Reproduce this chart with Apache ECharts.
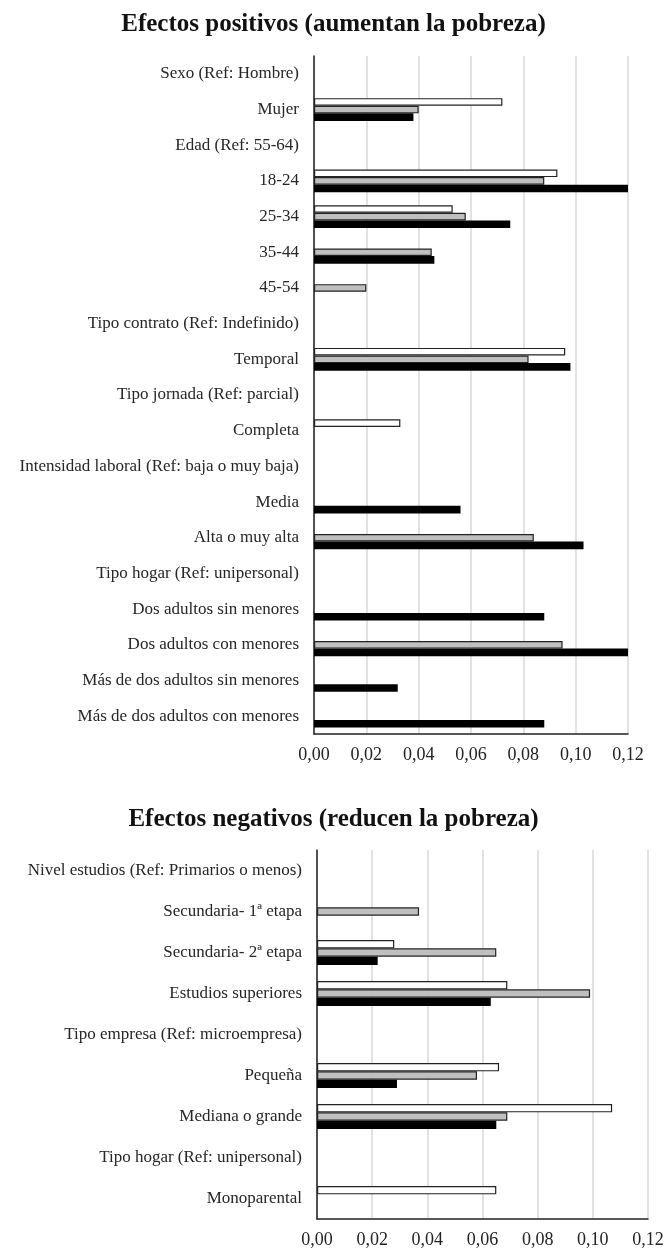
<!DOCTYPE html>
<html>
<head>
<meta charset="utf-8">
<script src="https://cdn.jsdelivr.net/npm/echarts@6/dist/echarts.min.js"></script>
<style>
  html, body { margin: 0; padding: 0; background: #fff; }
  #main { width: 667px; height: 1249px; }
</style>
</head>
<body>
<div id="main"></div>
<script>
// categorias y valores (grafico superior)
var catsPos = ['Sexo (Ref: Hombre)', 'Mujer', 'Edad (Ref: 55-64)', '18-24', '25-34', '35-44', '45-54',
  'Tipo contrato (Ref: Indefinido)', 'Temporal', 'Tipo jornada (Ref: parcial)', 'Completa',
  'Intensidad laboral (Ref: baja o muy baja)', 'Media', 'Alta o muy alta',
  'Tipo hogar (Ref: unipersonal)', 'Dos adultos sin menores', 'Dos adultos con menores',
  'Más de dos adultos sin menores', 'Más de dos adultos con menores'];
var posBlanco = [null, 0.072, null, 0.093, 0.053, null, null, null, 0.096, null, 0.033, null, null, null, null, null, null, null, null];
var posGris   = [null, 0.040, null, 0.088, 0.058, 0.045, 0.020, null, 0.082, null, null, null, null, 0.084, null, null, 0.095, null, null];
var posNegro  = [null, 0.038, null, 0.120, 0.075, 0.046, null, null, 0.098, null, null, null, 0.056, 0.103, null, 0.088, 0.120, 0.032, 0.088];

// grafico inferior
var catsNeg = ['Nivel estudios (Ref: Primarios o menos)', 'Secundaria- 1ª etapa', 'Secundaria- 2ª etapa',
  'Estudios superiores', 'Tipo empresa (Ref: microempresa)', 'Pequeña', 'Mediana o grande',
  'Tipo hogar (Ref: unipersonal)', 'Monoparental'];
var negBlanco = [null, null, 0.028, 0.069, null, 0.066, 0.107, null, 0.065];
var negGris   = [null, 0.037, 0.065, 0.099, null, 0.058, 0.069, null, null];
var negNegro  = [null, null, 0.022, 0.063, null, 0.029, 0.065, null, null];

var titulos = ['Efectos positivos (aumentan la pobreza)', 'Efectos negativos (reducen la pobreza)'];
var serieNombres = ['Serie 1', 'Serie 2', 'Serie 3'];

var FONT = '"Liberation Serif", "DejaVu Serif", serif';

function xAxisCfg(idx) {
  return {
    type: 'value', gridIndex: idx, min: 0, max: 0.12, interval: 0.02,
    axisLine: { show: true, lineStyle: { color: '#222', width: 1.5 } },
    axisTick: { show: false },
    splitLine: { show: true, lineStyle: { color: '#d9d9d9', width: 1.5 } },
    axisLabel: {
      fontFamily: FONT, fontSize: 18, color: '#222', margin: 12,
      formatter: function (v) { return v.toFixed(2).replace('.', ','); }
    }
  };
}
function yAxisCfg(idx, cats) {
  return {
    type: 'category', gridIndex: idx, data: cats, inverse: true,
    axisLine: { show: true, lineStyle: { color: '#222', width: 1.5 } },
    axisTick: { show: false },
    axisLabel: { fontFamily: FONT, fontSize: 17, color: '#262626', margin: 15 }
  };
}
function barSerie(name, idx, data, color, bw) {
  return {
    name: name, type: 'bar', xAxisIndex: idx, yAxisIndex: idx, data: data,
    barWidth: bw, barGap: '0%',
    itemStyle: { color: color, borderColor: '#222', borderWidth: color === '#000' ? 0 : 1.2 }
  };
}

var chart = echarts.init(document.getElementById('main'));
chart.setOption({
  backgroundColor: '#fff',
  animation: false,
  title: [
    { text: titulos[0], left: 'center', top: 7, textStyle: { fontFamily: FONT, fontSize: 25, fontWeight: 'bold', color: '#111' } },
    { text: titulos[1], left: 'center', top: 802, textStyle: { fontFamily: FONT, fontSize: 25, fontWeight: 'bold', color: '#111' } }
  ],
  grid: [
    { left: 314, right: 39, top: 56, height: 678 },
    { left: 317, right: 19, top: 850, height: 369 }
  ],
  xAxis: [xAxisCfg(0), xAxisCfg(1)],
  yAxis: [yAxisCfg(0, catsPos), yAxisCfg(1, catsNeg)],
  series: [
    barSerie(serieNombres[0], 0, posBlanco, '#fff', 7.6),
    barSerie(serieNombres[1], 0, posGris, '#bfbfbf', 7.6),
    barSerie(serieNombres[2], 0, posNegro, '#000', 7.6),
    barSerie(serieNombres[0], 1, negBlanco, '#fff', 8.3),
    barSerie(serieNombres[1], 1, negGris, '#bfbfbf', 8.3),
    barSerie(serieNombres[2], 1, negNegro, '#000', 8.3)
  ]
});
</script>
</body>
</html>
